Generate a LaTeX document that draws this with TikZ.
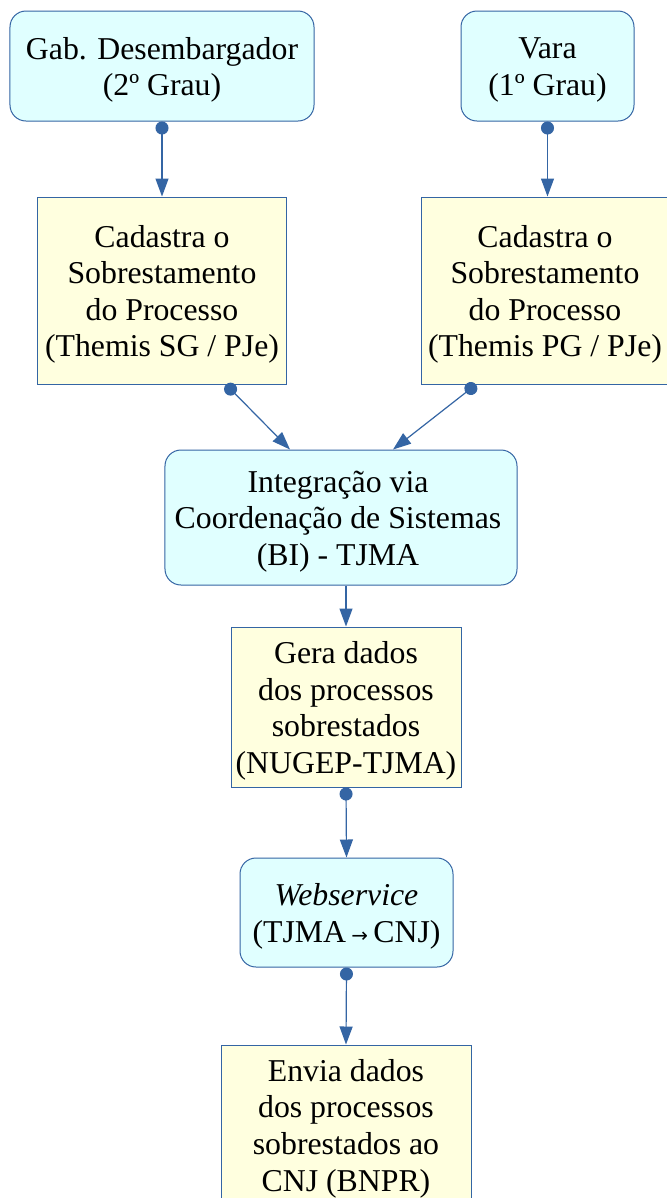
\documentclass[tikz,border=0pt]{standalone}
\usepackage{fontspec}
\setmainfont{Liberation Serif}
\newfontfamily\arrowfont{DejaVu Sans}
\usetikzlibrary{arrows.meta,calc}
\definecolor{edgeblue}{HTML}{3465A4}
\definecolor{cyanfill}{HTML}{E0FFFF}
\definecolor{yelfill}{HTML}{FFFFDF}
\tikzset{
  basebox/.style={draw=edgeblue, line width=1bp, inner sep=0pt, anchor=center},
  roundbox/.style={basebox, fill=cyanfill, rounded corners=16bp},
  sqbox/.style={basebox, fill=yelfill},
  txt/.style={align=center, font=\fontsize{31.9}{36.7}\selectfont, inner sep=0pt, text=black},
  conn/.style={draw=edgeblue, line width=1.2bp, {Circle[length=13bp]}-{Triangle[length=18bp,width=13bp]}},
  connplain/.style={draw=edgeblue, line width=1.2bp, -{Triangle[length=18bp,width=13bp]}},
}
\begin{document}
\begin{tikzpicture}[x=1bp,y=-1bp]
\fill[white] (0,0) rectangle (667,1198);
\useasboundingbox (0,0) rectangle (667,1198);
% boxes
\node[roundbox, minimum width=304bp, minimum height=110bp] (A) at (162,66) {};
\node[roundbox, minimum width=173bp, minimum height=110bp] (B) at (547.5,66) {};
\node[sqbox, minimum width=248bp, minimum height=187bp] (C) at (162,290.5) {};
\node[sqbox, minimum width=248bp, minimum height=187bp] (D) at (545,290.5) {};
\node[roundbox, minimum width=352bp, minimum height=135bp] (E) at (341,517.5) {};
\node[sqbox, minimum width=230bp, minimum height=160bp] (F) at (346,707) {};
\node[roundbox, minimum width=213bp, minimum height=109bp] (G) at (346.5,912.5) {};
\node[sqbox, minimum width=250bp, minimum height=159bp] (H) at (346,1124.5) {};
% texts
\node[txt] (tA) at ([yshift=-4bp]A.center) {Gab. Desembargador\\(2º Grau)};
\node[txt] (tB) at ([yshift=-4bp]B.center) {Vara\\(1º Grau)};
\node[txt] (tC) at ([yshift=-4bp]C.center) {Cadastra o\\Sobrestamento\\do Processo\\(Themis SG / PJe)};
\node[txt] (tD) at ([yshift=-4bp]D.center) {Cadastra o\\Sobrestamento\\do Processo\\(Themis PG / PJe)};
\node[txt] (tE) at ([xshift=-3bp,yshift=-4bp]E.center) {Integração via\\Coordenação de Sistemas\\(BI) - TJMA};
\node[txt] (tF) at ([yshift=-4bp]F.center) {Gera dados\\dos processos\\sobrestados\\(NUGEP-TJMA)};
\node[txt] (tG) at ([yshift=-4bp]G.center) {\textit{Webservice}\\(TJMA\,{\arrowfont\fontsize{20}{20}\selectfont →}\,CNJ)};
\node[txt] (tH) at ([yshift=-4bp]H.center) {Envia dados\\dos processos\\sobrestados ao\\CNJ (BNPR)};
% connectors
\coordinate (c1) at ([xshift=64bp]C.south);
\coordinate (e1) at ([xshift=-51bp]E.north);
\coordinate (d1) at ([xshift=-69bp]D.south);
\coordinate (e2) at ([xshift=52bp]E.north);
\draw[conn] (A.south) -- (A.south |- C.north);
\draw[conn] (B.south) -- (B.south |- D.north);
\draw[conn] (c1) -- (e1);
\draw[conn] (d1) -- (e2);
\draw[connplain] (F.north |- E.south) -- (F.north);
\draw[conn] (F.south) -- (G.north);
\draw[conn] (G.south) -- (H.north);
\end{tikzpicture}
\end{document}
